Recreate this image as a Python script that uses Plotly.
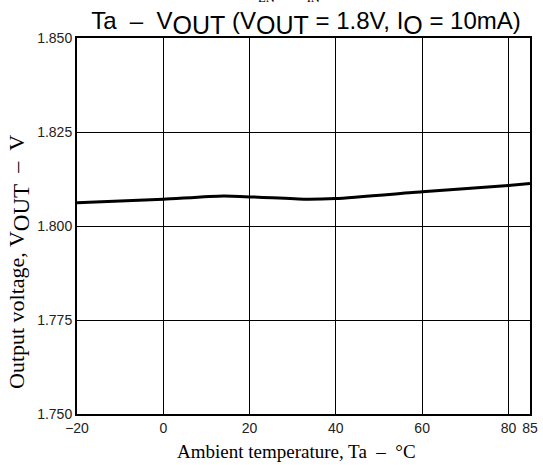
import plotly.graph_objects as go

temperature = [-20, 0, 14, 33, 40, 60, 80, 85]
vout = [1.8062, 1.8071, 1.8080, 1.8071, 1.8073, 1.8091, 1.8108, 1.8113]

x_ticks = [-20, 0, 20, 40, 60, 80, 85]
y_ticks = [1.750, 1.775, 1.800, 1.825, 1.850]

W, H = 543, 465
L, R, T, B = 77, 13, 38, 51
PW, PH = W - L - R, H - T - B


def bigsub(t, size):
    return f"<sub><span style='font-size:{size}px'>{t}</span></sub>"


SP = "&nbsp;"
title_txt = ("Ta" + SP * 2 + "–" + SP * 2 + "V" + bigsub("OUT", 25) + " (V" + bigsub("OUT", 25)
             + " = 1.8V, I" + bigsub("O", 25) + " = 10mA)")
ytitle_txt = "Output voltage, V" + bigsub("OUT", 23) + SP * 2 + "–" + SP * 2 + "V"
xtitle_txt = "Ambient temperature, Ta" + SP * 2 + "–" + SP * 2 + "°C"

serif = "Liberation Serif, Times New Roman, serif"
sans = "Liberation Sans, Arial, sans-serif"

fig = go.Figure()
fig.add_trace(go.Scatter(x=temperature, y=vout, mode="lines",
                         line=dict(color="black", width=3, shape="spline", smoothing=0.6),
                         showlegend=False, hoverinfo="skip"))

fig.update_layout(
    width=W, height=H,
    margin=dict(l=L, r=R, t=T, b=B, autoexpand=False),
    paper_bgcolor="white", plot_bgcolor="white",
    title=dict(text=title_txt,
               x=306 / W, xanchor="center", y=1 - 29 / H, yanchor="bottom",
               font=dict(family=sans, size=24, color="black")),
    annotations=[
        dict(text="V<sub>EN</sub> = V<sub>IN</sub>", xref="paper", yref="paper",
             x=(282 - L) / PW, y=1.0, yshift=31, xanchor="center", yanchor="bottom",
             showarrow=False, font=dict(family=serif, size=18, color="black")),
        dict(text=xtitle_txt, xref="paper", yref="paper",
             x=(296 - L) / PW, y=-(451 - (T + PH)) / PH, xanchor="center", yanchor="middle",
             showarrow=False, font=dict(family=serif, size=19, color="black")),
        dict(text=ytitle_txt, xref="paper", yref="paper", textangle=-90,
             x=-(L - 19) / PW, y=1 - (262 - T) / PH, xanchor="center", yanchor="middle",
             showarrow=False, font=dict(family=serif, size=22, color="black")),
    ],
)

fig.update_xaxes(range=[-20, 85], tickvals=x_ticks, ticktext=[str(v).replace("-", "−") for v in x_ticks],
                 showgrid=True, gridcolor="black", gridwidth=1,
                 showline=True, linecolor="black", linewidth=2, mirror=True,
                 ticks="", zeroline=False, automargin=False,
                 tickfont=dict(family=sans, size=14, color="#222"))
fig.update_yaxes(range=[1.750, 1.850], tickvals=y_ticks, tickformat=".3f",
                 showgrid=True, gridcolor="black", gridwidth=1,
                 showline=True, linecolor="black", linewidth=2, mirror=True,
                 ticks="", zeroline=False, automargin=False,
                 tickfont=dict(family=sans, size=14, color="#222"))

fig.write_html("out.html", config={"displayModeBar": False},
               post_script="document.body.style.margin='0';")
